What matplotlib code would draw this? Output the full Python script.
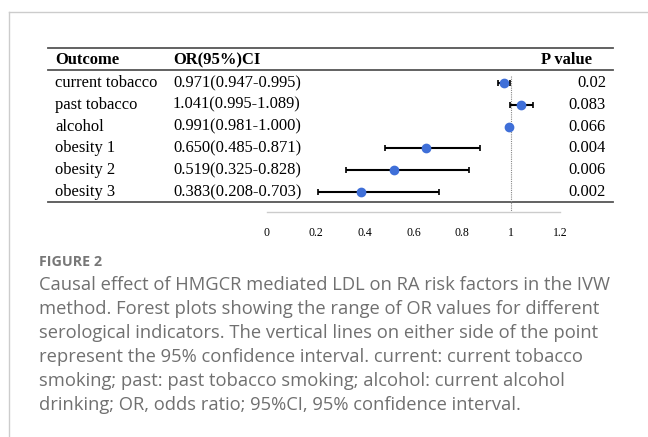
import matplotlib.pyplot as plt
import numpy as np

W, H = 648, 437

outcomes = ['current tobacco', 'past tobacco', 'alcohol',
            'obesity 1', 'obesity 2', 'obesity 3']
orVals = [0.971, 1.041, 0.991, 0.650, 0.519, 0.383]
ciLow = [0.947, 0.995, 0.981, 0.485, 0.325, 0.208]
ciHigh = [0.995, 1.089, 1.000, 0.871, 0.828, 0.703]
ciText = ['0.971(0.947-0.995)', '1.041(0.995-1.089)', '0.991(0.981-1.000)',
          '0.650(0.485-0.871)', '0.519(0.325-0.828)', '0.383(0.208-0.703)']
pVals = ['0.02', '0.083', '0.066', '0.004', '0.006', '0.002']
xTicks = [0, 0.2, 0.4, 0.6, 0.8, 1, 1.2]

caption = ['Causal effect of HMGCR mediated LDL on RA risk factors in the IVW',
           'method. Forest plots showing the range of OR values for different',
           'serological indicators. The vertical lines on either side of the point',
           'represent the 95% confidence interval. current: current tobacco',
           'smoking; past: past tobacco smoking; alcohol: current alcohol',
           'drinking; OR, odds ratio; 95%CI, 95% confidence interval.']

serif = 'Liberation Serif'
fs = 11.85

fig = plt.figure(figsize=(W / 100, H / 100), dpi=100)

# background axes in pixel units
bg = fig.add_axes([0, 0, 1, 1])
bg.set_xlim(0, W)
bg.set_ylim(H, 0)
bg.axis('off')

# frame lines of the page
bg.plot([9, 9], [12, H], color='#cccccc', lw=1)
bg.plot([9, W], [12, 12], color='#cccccc', lw=1)

# table rules
for y in [48, 70, 202]:
    bg.plot([48, 613], [y, y], color='#555555', lw=1.3)

rowY = 83 + 21.8 * np.arange(len(outcomes))

bg.text(55, 60, 'Outcome', fontfamily=serif, fontweight='bold',
        fontsize=fs, va='center', ha='left')
bg.text(173, 60, 'OR(95%)CI', fontfamily=serif, fontweight='bold',
        fontsize=fs, va='center', ha='left')
bg.text(592, 60, 'P value', fontfamily=serif, fontweight='bold',
        fontsize=fs, va='center', ha='right')

for y, name, ci, p in zip(rowY, outcomes, ciText, pVals):
    bg.text(55, y, name, fontfamily=serif, fontsize=fs, va='center')
    bg.text(173, y, ci, fontfamily=serif, fontsize=fs, va='center')
    bg.text(606, y, p, fontfamily=serif, fontsize=fs, va='center', ha='right')

# caption
bg.text(39, 262, 'FIGURE 2', fontfamily='Open Sans', fontweight='bold',
        fontsize=10.3, color='#777777', va='center')
for i, line in enumerate(caption):
    bg.text(39, 285 + 24 * i, line, fontfamily='Open Sans', fontsize=13.2,
            color='#707070', va='center')

# forest plot axes
x0, x1 = 267, 560
yTop, yBot = 70, 212
ax = fig.add_axes([x0 / W, 1 - yBot / H, (x1 - x0) / W, (yBot - yTop) / H])
ax.patch.set_alpha(0)
ax.set_xlim(0, 1.2)
ax.set_ylim((yBot - 83) / 21.8, (yTop - 83) / 21.8)
for s in ['top', 'right', 'left']:
    ax.spines[s].set_visible(False)
ax.spines['bottom'].set_color('#cccccc')
ax.spines['bottom'].set_linewidth(1)
ax.set_yticks([])
ax.set_xticks(xTicks)
ax.set_xticklabels([str(t) for t in xTicks], fontfamily=serif, fontsize=8.5)
ax.tick_params(axis='x', length=0, pad=11)

ypos = np.arange(len(outcomes))
orArr = np.array(orVals)
ax.errorbar(orArr, ypos, xerr=[orArr - np.array(ciLow), np.array(ciHigh) - orArr],
            fmt='none', ecolor='black', elinewidth=1.5, capsize=2.5, capthick=1.2)
ax.plot(orArr, ypos, 'o', color='#3f6fd8', markersize=6, zorder=3)
ax.plot([1, 1], [-0.3, (yBot - 83) / 21.8], color='#888888', lw=0.8,
        linestyle=(0, (1, 1)), zorder=1)

plt.savefig('out.png', dpi=100)
